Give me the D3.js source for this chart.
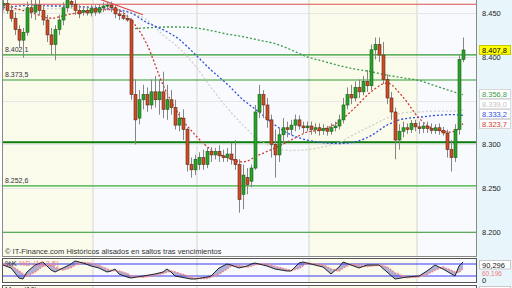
<!DOCTYPE html>
<html>
<head>
<meta charset="utf-8">
<script src="https://cdn.jsdelivr.net/npm/d3@7"></script>
<style>
  body { margin: 0; background: #fff; }
  svg { display: block; font-family: "Liberation Sans", Arial, sans-serif; }
</style>
</head>
<body>
<svg id="chart" width="512" height="288"></svg>
<script>
// daily candles, index 0..115
var open = [
  8459, 8461, 8453, 8444, 8431, 8419, 8428, 8456, 8451, 8459,
  8453, 8442, 8425, 8414, 8431, 8442, 8456, 8463, 8460, 8453,
  8451, 8453, 8450, 8455, 8451, 8456, 8458, 8459, 8456, 8449,
  8447, 8444, 8442, 8357, 8330, 8351, 8357, 8345, 8360, 8351,
  8360, 8340, 8351, 8342, 8322, 8330, 8317, 8277, 8271, 8277,
  8285, 8277, 8292, 8288, 8292, 8287, 8285, 8289, 8283, 8277,
  8243, 8262, 8258, 8273, 8337, 8357, 8345, 8328, 8300, 8288,
  8311, 8319, 8317, 8322, 8328, 8321, 8319, 8321, 8317, 8319,
  8316, 8318, 8315, 8319, 8321, 8328, 8345, 8357, 8353, 8365,
  8360, 8372, 8367, 8408, 8414, 8402, 8374, 8353, 8337, 8305,
  8315, 8319, 8317, 8324, 8320, 8318, 8321, 8318, 8316, 8319,
  8316, 8313, 8294, 8285, 8317, 8397
];
var high = [
  8465, 8465, 8459, 8451, 8436, 8433, 8463, 8465, 8465, 8465,
  8459, 8448, 8433, 8436, 8448, 8462, 8468, 8467, 8465, 8459,
  8458, 8458, 8459, 8459, 8460, 8462, 8463, 8463, 8459, 8454,
  8451, 8448, 8444, 8374, 8362, 8368, 8365, 8374, 8378, 8374,
  8383, 8368, 8362, 8351, 8337, 8340, 8319, 8285, 8288, 8291,
  8294, 8296, 8297, 8296, 8299, 8294, 8296, 8302, 8305, 8283,
  8277, 8273, 8277, 8345, 8368, 8362, 8353, 8334, 8317, 8319,
  8330, 8326, 8328, 8334, 8333, 8326, 8326, 8326, 8324, 8324,
  8323, 8321, 8324, 8326, 8334, 8353, 8365, 8368, 8372, 8374,
  8378, 8385, 8414, 8422, 8422, 8417, 8380, 8360, 8342, 8323,
  8326, 8324, 8328, 8328, 8326, 8325, 8326, 8324, 8323, 8324,
  8320, 8317, 8305, 8323, 8402, 8422
];
var low = [
  8453, 8449, 8440, 8425, 8410, 8399, 8424, 8444, 8442, 8448,
  8436, 8417, 8402, 8396, 8425, 8436, 8451, 8456, 8448, 8444,
  8447, 8447, 8446, 8447, 8449, 8451, 8453, 8451, 8444, 8442,
  8442, 8440, 8351, 8300, 8323, 8340, 8337, 8340, 8342, 8334,
  8330, 8328, 8334, 8317, 8315, 8305, 8269, 8262, 8265, 8271,
  8271, 8273, 8280, 8283, 8280, 8280, 8280, 8277, 8271, 8222,
  8226, 8243, 8251, 8271, 8330, 8330, 8319, 8285, 8262, 8280,
  8300, 8308, 8311, 8315, 8317, 8313, 8315, 8311, 8312, 8310,
  8311, 8310, 8311, 8315, 8317, 8324, 8340, 8346, 8349, 8353,
  8356, 8360, 8362, 8397, 8394, 8369, 8346, 8328, 8283, 8294,
  8308, 8312, 8313, 8315, 8312, 8313, 8313, 8312, 8312, 8311,
  8310, 8285, 8269, 8280, 8311, 8394
];
var close = [
  8461, 8453, 8444, 8431, 8419, 8428, 8456, 8451, 8459, 8453,
  8442, 8425, 8414, 8431, 8442, 8456, 8465, 8460, 8453, 8449,
  8453, 8450, 8455, 8451, 8456, 8458, 8459, 8456, 8449, 8447,
  8444, 8442, 8357, 8328, 8351, 8357, 8345, 8360, 8351, 8360,
  8340, 8351, 8342, 8322, 8330, 8317, 8277, 8271, 8283, 8285,
  8277, 8292, 8288, 8292, 8287, 8285, 8289, 8283, 8277, 8237,
  8265, 8254, 8273, 8337, 8357, 8345, 8328, 8300, 8288, 8311,
  8319, 8317, 8322, 8328, 8321, 8319, 8321, 8317, 8319, 8316,
  8318, 8315, 8319, 8321, 8328, 8345, 8357, 8353, 8365, 8360,
  8372, 8367, 8408, 8414, 8402, 8374, 8353, 8337, 8305, 8315,
  8319, 8317, 8324, 8320, 8318, 8321, 8318, 8316, 8319, 8316,
  8313, 8294, 8285, 8317, 8397, 8407.8
];

// moving averages, read every 4th candle
var maIdx = [0, 4, 8, 12, 16, 20, 24, 28, 32, 36, 40, 44, 48, 52, 56, 60, 64, 68, 72, 76, 80, 84, 88, 92, 96, 100, 104, 108, 112, 115];
var maRed = [8459, 8454, 8449, 8444, 8448, 8451, 8454, 8454, 8442, 8414, 8368, 8334, 8311, 8294, 8285, 8280, 8288, 8296, 8305, 8314, 8317, 8326, 8342, 8360, 8370, 8354, 8330, 8317, 8314, 8323.7];
var maBlue = [8456, 8458, 8459, 8458, 8458, 8457, 8456, 8454, 8450, 8439, 8431, 8420, 8403, 8385, 8369, 8351, 8337, 8322, 8311, 8305, 8302, 8301, 8303, 8310, 8322, 8329, 8331, 8333, 8334, 8333.2];
var maGray = [8451, 8454, 8455, 8455, 8455, 8456, 8456, 8455, 8451, 8442, 8425, 8410, 8390, 8365, 8342, 8322, 8305, 8296, 8293, 8294, 8297, 8302, 8312, 8321, 8330, 8336, 8337, 8338, 8338, 8339];
var maGreen = [null, null, null, null, null, null, null, null, 8432, 8433, 8434, 8434, 8433, 8430, 8426, 8423, 8419, 8415, 8408, 8400, 8395, 8390, 8386, 8383, 8379, 8376, 8373, 8367, 8361, 8356.8];

// horizontal levels and trend line
var resistLevel = 8460;
var greenLevels = [8402.1, 8373.5, 8252.6];
var supportLevel = 8302.5;
var floorLevel = 8199.7;
var trendIdx = [24, 35];
var trendVal = [8466, 8448];

var priceTicks = [8200, 8250, 8300, 8350, 8400, 8450];
var periodStarts = [23, 49, 77, 104];

// stochastic %K %D (14,3,5)
var stochIdx = [0, 2, 4, 5, 6, 8, 10, 12, 13, 15, 17, 18, 20, 22, 24, 26, 27, 28, 29, 31, 32, 35, 38, 40, 41, 42, 43, 47, 48, 51, 52, 54, 56, 57, 59, 61, 62, 63, 66, 68, 71, 72, 74, 75, 76, 80, 82, 84, 85, 87, 89, 91, 94, 96, 98, 101, 104, 106, 108, 110, 113, 114, 115];
var stochK = [75, 60, 10, 5, 40, 75, 90, 50, 40, 60, 80, 95, 85, 70, 60, 40, 45, 55, 30, 15, 10, 20, 30, 40, 55, 40, 20, 5, 5, 15, 20, 60, 80, 75, 60, 70, 80, 85, 70, 55, 45, 45, 85, 90, 85, 65, 30, 65, 90, 75, 60, 75, 75, 40, 5, 15, 20, 45, 75, 55, 20, 70, 90.296];
var stochD = [80, 72, 45, 30, 20, 40, 70, 75, 62, 50, 62, 75, 88, 83, 72, 55, 48, 46, 45, 32, 20, 14, 24, 32, 40, 45, 40, 15, 8, 8, 14, 30, 55, 70, 72, 65, 70, 78, 80, 68, 52, 47, 58, 72, 84, 76, 55, 45, 60, 80, 72, 68, 75, 65, 35, 12, 16, 28, 50, 65, 40, 38, 60.196];
var stochLevels = [20, 80];

var es = d3.formatLocale({decimal: ",", thousands: ".", grouping: [3], currency: ["", ""]});
var fmtAxis = es.format(",.0f"),
    fmt1 = es.format(",.1f"),
    fmt3 = es.format(",.3f");

var svg = d3.select("#chart");
var plotL = 2.5, plotR = 476.5, mainTop = 0, mainBot = 256.5;
var stTop = 258.5, stBot = 282.5;

var x = d3.scaleLinear().domain([0, 115]).range([3, 463]);
var y = d3.scaleLinear().domain([8200, 8450]).range([232, 13]);
var ys = d3.scaleLinear().domain([0, 100]).range([280, 260]);

// right axis strip
svg.append("rect").attr("x", 477).attr("y", 0).attr("width", 35).attr("height", 288).attr("fill", "#e8f5fa");

// period bands
var edges = [plotL].concat(periodStarts.map(function(d) { return x(d) - 2; })).concat([plotR]);
var bandFill = ["#fbfbec", "#f8fafd", "#f8fafd", "#fbfbec", "#f8fafd"];
[[mainTop, mainBot], [stTop, stBot], [285.5, 288]].forEach(function(p) {
  svg.selectAll(null).data(d3.pairs(edges)).enter().append("rect")
    .attr("x", function(d) { return d[0]; })
    .attr("y", p[0])
    .attr("width", function(d) { return d[1] - d[0]; })
    .attr("height", p[1] - p[0])
    .attr("fill", function(d, i) { return bandFill[i]; });
  svg.selectAll(null).data(periodStarts).enter().append("line")
    .attr("x1", function(d) { return x(d) - 2; })
    .attr("x2", function(d) { return x(d) - 2; })
    .attr("y1", p[0]).attr("y2", p[1])
    .attr("stroke", "#dcdcd4").attr("stroke-width", 1.2);
});

svg.append("clipPath").attr("id", "mainclip")
  .append("rect").attr("x", plotL).attr("y", mainTop).attr("width", plotR - plotL).attr("height", mainBot - mainTop);
var main = svg.append("g").attr("clip-path", "url(#mainclip)");

// grid
main.selectAll(null).data(priceTicks).enter().append("line")
  .attr("x1", plotL).attr("x2", plotR)
  .attr("y1", function(d) { return Math.round(y(d)) + 0.5; })
  .attr("y2", function(d) { return Math.round(y(d)) + 0.5; })
  .attr("stroke", "#e6e6e6");

// levels
function hline(v, color, w) {
  main.append("line").attr("x1", plotL).attr("x2", plotR)
    .attr("y1", y(v)).attr("y2", y(v))
    .attr("stroke", color).attr("stroke-width", w);
}
hline(resistLevel, "#e05050", 1.2);
hline(greenLevels[0], "#2f9a2f", 1.2);
hline(greenLevels[1], "#2f9a2f", 1.2);
hline(greenLevels[2], "#6cc36c", 1.6);
hline(supportLevel, "#0b7d0b", 2);
hline(floorLevel, "#2f962f", 1.2);

main.append("line")
  .attr("x1", x(trendIdx[0])).attr("y1", y(trendVal[0]))
  .attr("x2", x(trendIdx[1])).attr("y2", y(trendVal[1]))
  .attr("stroke", "#e04848").attr("stroke-width", 1.2);

// level captions
main.selectAll(null).data(greenLevels).enter().append("text")
  .attr("x", 5).attr("y", function(d) { return y(d) - 3; })
  .attr("font-size", 7).attr("fill", "#333")
  .text(function(d) { return fmt1(d); });

// moving averages
function maLine(vals, color, dash) {
  var pts = maIdx.map(function(d, i) { return [d, vals[i]]; });
  main.append("path")
    .datum(pts)
    .attr("fill", "none")
    .attr("stroke", color)
    .attr("stroke-width", 1.3)
    .attr("stroke-dasharray", dash)
    .attr("d", d3.line()
      .defined(function(d) { return d[1] !== null; })
      .curve(d3.curveMonotoneX)
      .x(function(d) { return x(d[0]); })
      .y(function(d) { return y(d[1]); }));
}
maLine(maGray, "#cfcfcf", "2,2");
maLine(maGreen, "#3b9a4b", "2,2");
maLine(maBlue, "#2c4fe0", "2,2");
maLine(maRed, "#cc3a30", "2,2");

// candles
var candles = close.map(function(c, i) { return {i: i, o: open[i], h: high[i], l: low[i], c: c}; });
var cg = main.append("g");
cg.selectAll("line.wick").data(candles).enter().append("line")
  .attr("x1", function(d) { return Math.round(x(d.i)) + 0.5; })
  .attr("x2", function(d) { return Math.round(x(d.i)) + 0.5; })
  .attr("y1", function(d) { return y(d.h); })
  .attr("y2", function(d) { return y(d.l); })
  .attr("stroke", "#858585");
cg.selectAll("rect").data(candles).enter().append("rect")
  .attr("x", function(d) { return Math.round(x(d.i)) - 1; })
  .attr("width", 3)
  .attr("y", function(d) { return y(Math.max(d.o, d.c)); })
  .attr("height", function(d) { return Math.max(1, Math.abs(y(d.o) - y(d.c))); })
  .attr("fill", function(d) { return d.c >= d.o ? "#27a327" : "#cf4a26"; })
  .attr("stroke", function(d) { return d.c >= d.o ? "#1c5e1c" : "#5e2a14"; })
  .attr("stroke-width", 0.6);

// frames
svg.append("rect").attr("x", plotL).attr("y", -1).attr("width", plotR - plotL).attr("height", mainBot + 1)
  .attr("fill", "none").attr("stroke", "#8a8a8a");
svg.append("rect").attr("x", plotL).attr("y", stTop).attr("width", plotR - plotL).attr("height", stBot - stTop)
  .attr("fill", "none").attr("stroke", "#555");
svg.append("rect").attr("x", plotL).attr("y", 285.5).attr("width", plotR - plotL).attr("height", 10)
  .attr("fill", "none").attr("stroke", "#555");

svg.append("text").attr("x", 5).attr("y", 254)
  .attr("font-size", 7.5).attr("fill", "#333")
  .text("\u00a9 IT-Finance.com  Hist\u00f3ricos alisados en saltos tras vencimientos");

// price axis
var axis = svg.append("g").attr("transform", "translate(478,0)")
  .call(d3.axisRight(y).tickValues(priceTicks).tickSize(0).tickPadding(4).tickFormat(fmtAxis));
axis.select(".domain").remove();
axis.selectAll("text").attr("font-size", 7.5).attr("fill", "#222").attr("font-family", "Liberation Sans, Arial, sans-serif");

// last-value boxes, pushed up from the bottom so they do not collide
var boxes = [
  {v: close[close.length - 1], bg: "#ffff00", color: "#000", border: "#c8c800"},
  {v: maGreen[maGreen.length - 1], bg: "#fff", color: "#3b9a4b", border: "#d6d6d6"},
  {v: maGray[maGray.length - 1], bg: "#fff", color: "#c4c4c4", border: "#e0e0e0"},
  {v: maBlue[maBlue.length - 1], bg: "#fff", color: "#2c4fe0", border: "#d6d6d6"},
  {v: maRed[maRed.length - 1], bg: "#fff", color: "#cc3a30", border: "#d6d6d6"}
];
boxes.forEach(function(b) { b.yc = Math.round(y(b.v)); });
boxes.sort(function(a, b) { return a.yc - b.yc; });
for (var k = boxes.length - 2; k >= 0; k--) {
  boxes[k].yc = Math.min(boxes[k].yc, boxes[k + 1].yc - 10);
}
var bg = svg.selectAll("g.vbox").data(boxes).enter().append("g").attr("class", "vbox");
bg.append("rect").attr("x", 479.5).attr("y", function(d) { return d.yc - 4.5; })
  .attr("width", 31).attr("height", 9)
  .attr("fill", function(d) { return d.bg; }).attr("stroke", function(d) { return d.border; });
bg.append("text").attr("x", 482).attr("y", function(d) { return d.yc + 2.7; })
  .attr("font-size", 7.5).attr("fill", function(d) { return d.color; })
  .text(function(d) { return fmt1(d.v); });

// stochastic panel
var st = svg.append("g");
var stPts = stochIdx.map(function(d, i) { return {i: d, k: stochK[i], dd: stochD[i]}; });
st.append("path").datum(stPts)
  .attr("fill", "#9ea3d6").attr("opacity", 0.85)
  .attr("d", d3.area().x(function(d) { return x(d.i); })
    .y0(function(d) { return ys(d.dd); }).y1(function(d) { return ys(d.k); }));
st.selectAll(null).data(stochLevels).enter().append("line")
  .attr("x1", plotL).attr("x2", plotR)
  .attr("y1", function(d) { return ys(d); }).attr("y2", function(d) { return ys(d); })
  .attr("stroke", "#3b3bef");
st.append("path").datum(stPts)
  .attr("fill", "none").attr("stroke", "#f08a8a").attr("stroke-width", 1.6).attr("stroke-dasharray", "2,1")
  .attr("d", d3.line().x(function(d) { return x(d.i); }).y(function(d) { return ys(d.dd); }));
st.append("path").datum(stPts)
  .attr("fill", "none").attr("stroke", "#222").attr("stroke-width", 1)
  .attr("d", d3.line().x(function(d) { return x(d.i); }).y(function(d) { return ys(d.k); }));

var stLabel = svg.append("text").attr("x", 5).attr("y", 266).attr("font-size", 7.5);
stLabel.append("tspan").attr("fill", "#222").text("%K");
stLabel.append("tspan").attr("fill", "#f07a7a").text(" %D (14,3,5)");

svg.append("rect").attr("x", 479.5).attr("y", 260.5).attr("width", 31).attr("height", 8.5)
  .attr("fill", "#fff").attr("stroke", "#c8c8c8");
svg.append("text").attr("x", 482).attr("y", 267.5)
  .attr("font-size", 7.5).attr("fill", "#222").text(fmt3(stochK[stochK.length - 1]));
svg.append("text").attr("x", 482).attr("y", 275.5)
  .attr("font-size", 6.5).attr("fill", "#f07a7a").text(fmt3(stochD[stochD.length - 1]));
svg.append("text").attr("x", 482).attr("y", 283)
  .attr("font-size", 7.5).attr("fill", "#222").text(fmtAxis(0));

// third panel, mostly below the fold
svg.append("text").attr("x", 5).attr("y", 292).attr("font-size", 7.5).attr("fill", "#222").text("Mom (10)");
svg.append("rect").attr("x", 479.5).attr("y", 286.5).attr("width", 31).attr("height", 9)
  .attr("fill", "#fff").attr("stroke", "#c8c8c8");
</script>
</body>
</html>
